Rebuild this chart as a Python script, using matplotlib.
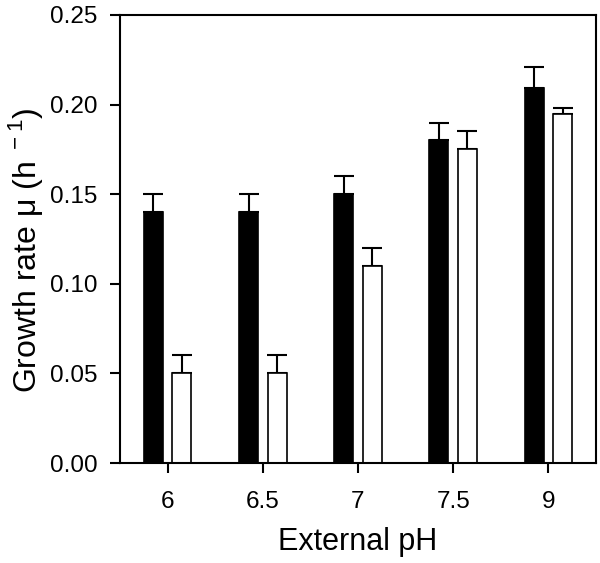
import numpy as np
import matplotlib
matplotlib.use("Agg")
import matplotlib.pyplot as plt

plt.rcParams['font.family'] = ['Liberation Sans', 'DejaVu Sans']
plt.rcParams['mathtext.fontset'] = 'custom'
plt.rcParams['mathtext.rm'] = 'Liberation Sans'

# data
ph_labels = ['6', '6.5', '7', '7.5', '9']
black_vals = [0.140, 0.140, 0.150, 0.180, 0.209]
black_err = [0.010, 0.010, 0.010, 0.010, 0.012]
white_vals = [0.050, 0.050, 0.110, 0.175, 0.195]
white_err = [0.010, 0.010, 0.010, 0.010, 0.003]

x = np.arange(len(ph_labels))
w = 0.2
off = 0.15

fig = plt.figure(figsize=(6.0, 5.63), dpi=100)
ax = fig.add_axes([0.2, 0.1776, 0.7933, 0.7958])

lw = 1.5
ax.bar(x - off, black_vals, w, color='black', edgecolor='black', linewidth=1.2, zorder=2)
ax.bar(x + off, white_vals, w, color='white', edgecolor='black', linewidth=1.2, zorder=2)

# one-sided (upward) error bars
zeros = np.zeros(len(x))
ax.errorbar(x - off, black_vals, yerr=[zeros, black_err], fmt='none', ecolor='black',
            elinewidth=lw, capsize=7, capthick=lw, zorder=1)
ax.errorbar(x + off, white_vals, yerr=[zeros, white_err], fmt='none', ecolor='black',
            elinewidth=lw, capsize=7, capthick=lw, zorder=1)

ax.set_xlim(-0.5, len(x) - 0.5)
ax.set_ylim(0, 0.25)
ax.set_xticks(x)
ax.set_xticklabels(ph_labels)
ax.set_yticks(np.arange(0, 0.251, 0.05))
ax.set_yticklabels([f'{v:.2f}' for v in np.arange(0, 0.251, 0.05)])

for s in ax.spines.values():
    s.set_linewidth(lw)
ax.tick_params(direction='out', length=7, width=lw, labelsize=17.5)
ax.tick_params(axis='x', pad=13)
ax.tick_params(axis='y', pad=9)

ax.set_xlabel('External pH', fontsize=22, labelpad=10)
ax.set_ylabel(r'Growth rate μ (h$^{\ -1}$)', fontsize=23, labelpad=4, y=0.475)

fig.savefig('out.png', dpi=100)
